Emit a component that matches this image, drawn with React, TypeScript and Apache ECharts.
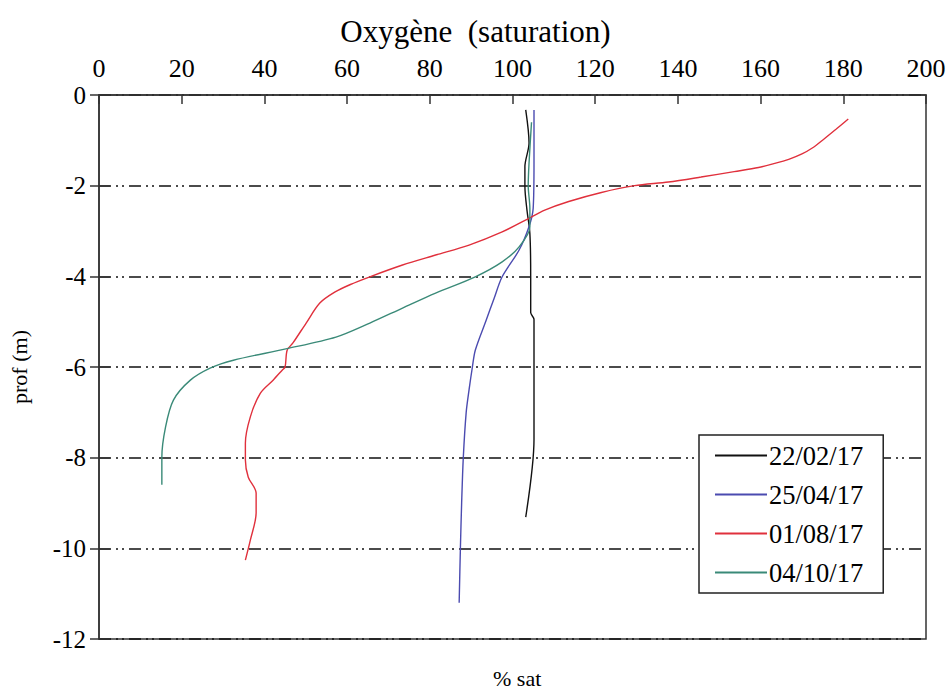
import React, { useEffect, useRef } from "react";
import * as echarts from "echarts";

const seriesNames = ["22/02/17", "25/04/17", "01/08/17", "04/10/17"];

const febDepth = [-0.33, -1.06, -1.58, -2.02, -2.54, -3.05, -4.0, -4.8, -4.95, -6.0, -7.6, -9.31];
const febSat = [103.2, 104.0, 103.0, 103.0, 103.5, 104.2, 104.4, 104.4, 105.2, 105.2, 105.2, 103.2];

const aprDepth = [-0.33, -1.5, -2.5, -2.9, -3.42, -4.01, -4.5, -5.0, -5.63, -6.0, -6.5, -7.0, -8.0, -9.0, -10.0, -11.2];
const aprSat = [105.2, 105.2, 105.0, 104.0, 101.6, 97.5, 95.5, 93.5, 91.0, 90.3, 89.5, 88.8, 88.1, 87.7, 87.4, 87.1];

const augDepth = [-0.53, -0.75, -0.98, -1.17, -1.3, -1.42, -1.52, -1.6, -1.69, -1.81, -1.92, -2.0, -2.15, -2.35, -2.54, -2.72, -3.02, -3.31, -3.53, -3.75, -4.01, -4.18, -4.35, -4.59, -5.03, -5.47, -5.63, -6.0, -6.07, -6.29, -6.58, -7.1, -7.68, -8.05, -8.43, -8.78, -9.22, -9.82, -10.26];
const augSat = [181.2, 178.3, 175.2, 172.5, 170.0, 166.8, 163.0, 159.5, 153.6, 145.6, 137.7, 129.5, 121.5, 113.6, 107.8, 104.0, 97.5, 89.5, 81.4, 73.4, 65.5, 60.8, 57.0, 53.4, 50.1, 46.9, 45.5, 45.0, 44.3, 42.1, 39.0, 36.6, 35.4, 35.4, 36.1, 38.0, 38.0, 36.6, 35.4];

const octDepth = [-0.6, -1.5, -2.0, -2.5, -2.91, -3.35, -3.68, -4.01, -4.37, -4.7, -5.03, -5.34, -5.6, -5.85, -6.02, -6.29, -6.73, -7.32, -7.99, -8.6];
const octSat = [104.6, 104.0, 103.8, 104.2, 104.2, 101.6, 97.5, 91.0, 81.4, 73.4, 65.5, 57.3, 45.2, 32.5, 27.0, 22.1, 18.0, 16.1, 15.2, 15.2];

const colors = ["#111111", "#4b4bb0", "#e0303c", "#3a8a78"];

const FONT = "Liberation Serif";

function pairs(sat: number[], depth: number[]) {
  return sat.map((v, i) => [v, depth[i]]);
}

export default function App() {
  const ref = useRef<HTMLDivElement>(null);
  useEffect(() => {
    document.body.style.margin = "0";
    if (!ref.current) return;
    const chart = echarts.init(ref.current, undefined, { renderer: "svg" });
    const datasets = [
      pairs(febSat, febDepth),
      pairs(aprSat, aprDepth),
      pairs(augSat, augDepth),
      pairs(octSat, octDepth),
    ];
    chart.setOption({
      animation: false,
      backgroundColor: "#ffffff",
      textStyle: { fontFamily: FONT },
      title: [
        {
          text: "Oxygène  (saturation)",
          left: "center",
          top: 11,
          textStyle: { fontFamily: FONT, fontSize: 31, fontWeight: "normal", color: "#000" },
        },
        {
          text: "% sat",
          left: 488,
          top: 662,
          textStyle: { fontFamily: FONT, fontSize: 22, fontWeight: "normal", color: "#000" },
        },
      ],
      grid: {
        left: 95,
        top: 95,
        right: 25,
        bottom: 50,
        show: true,
        borderColor: "#333",
        borderWidth: 1.5,
        backgroundColor: "transparent",
      },
      legend: {
        data: seriesNames,
        orient: "vertical",
        left: 699,
        top: 435,
        padding: [7, 20, 7, 16],
        itemGap: 12,
        itemWidth: 52,
        itemHeight: 2,
        icon: "rect",
        borderColor: "#222",
        borderWidth: 1.5,
        backgroundColor: "#fff",
        textStyle: { fontFamily: FONT, fontSize: 26.5, color: "#000", padding: [0, 0, 0, -3] },
      },
      xAxis: {
        type: "value",
        position: "top",
        min: 0,
        max: 200,
        interval: 20,
        axisLine: { show: true, lineStyle: { color: "#333", width: 1.5 } },
        axisTick: { show: true, inside: true, length: 9, lineStyle: { color: "#333", width: 1.5 } },
        axisLabel: { fontFamily: FONT, fontSize: 26, color: "#000", margin: 14 },
        splitLine: { show: false },
      },
      yAxis: [
        {
          type: "value",
          min: -12,
          max: 0,
          interval: 2,
          name: "prof (m)",
          nameLocation: "middle",
          nameRotate: 90,
          nameGap: 69,
          nameTextStyle: { fontFamily: FONT, fontSize: 22, color: "#000" },
          axisLine: { show: true, lineStyle: { color: "#333", width: 1.5 } },
          axisTick: { show: true, inside: false, length: 9, lineStyle: { color: "#333", width: 1.5 } },
          axisLabel: { fontFamily: FONT, fontSize: 25, color: "#000", margin: 13 },
          splitLine: {
            show: true,
            lineStyle: { color: "#111", width: 1.5, type: [12, 5, 2, 4, 2, 5] },
          },
        },
        {
          type: "value",
          min: -12,
          max: 0,
          interval: 2,
          position: "left",
          axisLine: { show: false },
          axisTick: { show: true, inside: true, length: 11, lineStyle: { color: "#333", width: 1.5 } },
          axisLabel: { show: false },
          splitLine: { show: false },
        },
      ],
      series: seriesNames.map((name, i) => ({
        name,
        type: "line",
        data: datasets[i],
        yAxisIndex: 0,
        showSymbol: false,
        symbol: "none",
        smooth: 0.3,
        color: colors[i],
        lineStyle: { color: colors[i], width: 1.4 },
        z: 3,
      })),
    });
    return () => chart.dispose();
  }, []);
  return <div ref={ref} style={{ width: 951, height: 689 }} />;
}
